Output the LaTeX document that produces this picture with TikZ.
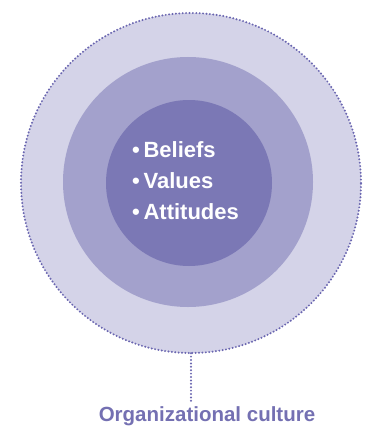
\documentclass[tikz,border=0pt]{standalone}
\usepackage{fontspec}
\setmainfont{Liberation Sans}
\usepackage{tikz}
\usetikzlibrary{positioning}
\usepackage{xcolor}
\definecolor{outerc}{HTML}{D4D3E8}
\definecolor{middlec}{HTML}{A3A1CC}
\definecolor{innerc}{HTML}{7B78B5}
\definecolor{dotc}{HTML}{6A66B0}
\definecolor{labelc}{HTML}{7470B2}

\begin{document}
\begin{tikzpicture}[x=1pt, y=-1pt,
  ring/.style = {circle, draw=none, inner sep=0pt},
  dotline/.style = {draw=dotc, line width=2.2pt, line cap=round, dash pattern=on 0pt off 3.4pt}
]
\useasboundingbox (0,0) rectangle (367,428);
\node[ring, fill=outerc, minimum size=340pt] (outer) at (191,183) {};
\draw[dotline] (outer.center) circle (170pt);
\node[ring, fill=middlec, minimum size=250pt] (middle) at (188,182) {};
\node[ring, fill=innerc, minimum size=166pt] (inner) at (189,183) {};
\node[anchor=west, align=left, text=white, font=\bfseries\fontsize{22}{31}\selectfont, inner sep=0pt] (list) at (132,181)
  {\textbullet\,Beliefs\\ \textbullet\,Values\\ \textbullet\,Attitudes};
\node[text=labelc, font=\bfseries\fontsize{20.5}{24}\selectfont, inner sep=2pt] (culture) at (207,416) {Organizational culture};
\draw[dotline] (outer.south) -- ++(0,50);
\end{tikzpicture}
\end{document}
